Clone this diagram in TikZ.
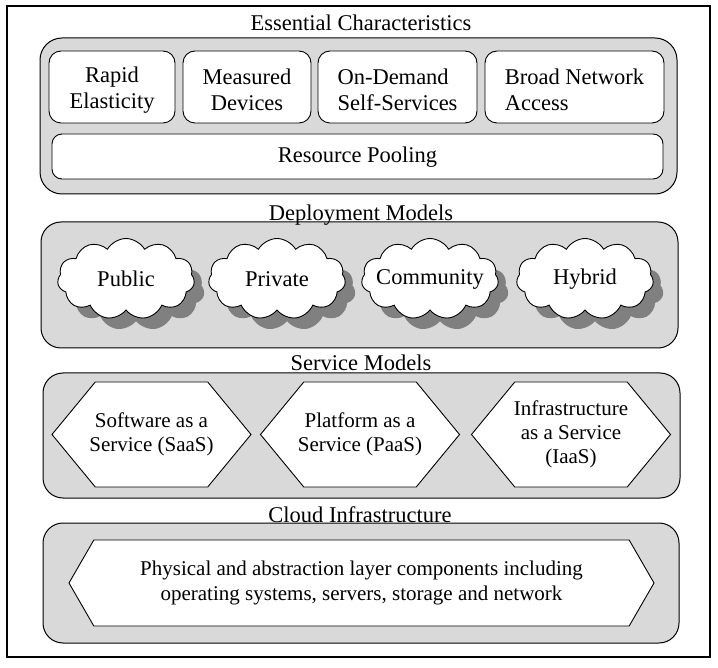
\documentclass[tikz,border=0pt]{standalone}
\usepackage{fontspec}
\setmainfont{Liberation Serif}
\usetikzlibrary{shapes.symbols,shadows}

\tikzset{
    panel/.style={draw, line width=1pt, fill=black!15, rounded corners=20pt},
    charbox/.style={draw, line width=0.9pt, fill=white, rounded corners=12pt,
        minimum height=72pt, inner sep=0pt},
    chartext/.style={yshift=-3pt, font=\fontsize{22.5}{26}\selectfont},
    title/.style={anchor=base, inner sep=0pt, font=\fontsize{22.5}{26}\selectfont},
    puff/.style={cloud, cloud puffs=11, cloud puff arc=120, cloud ignores aspect,
        draw, line width=0.9pt, fill=white, minimum width=137pt, minimum height=81pt,
        drop shadow={shadow xshift=10pt, shadow yshift=-11pt, fill=black!50, opacity=1},
        label={[font=\fontsize{22.5}{26}\selectfont]center:#1}},
    hexa/.style={signal, signal to=west and east, draw, line width=0.9pt, fill=white,
        inner sep=0pt, align=center},
    hexatext/.style={align=center, font=\fontsize{21}{24}\selectfont}
}

\begin{document}
\begin{tikzpicture}[x=1pt, y=-1pt]
    \useasboundingbox (0,0) rectangle (718,668);
    \draw[line width=2.5pt] (7,6) rectangle (710,657);

    % Essential characteristics
    \node[panel, rounded corners=22pt, minimum width=637pt, minimum height=156pt] (ess) at (358.5,116) {};
    \node[title] (esstitle) at (361,31) {Essential Characteristics};
    \node[charbox, minimum width=126pt, label={[chartext, align=center]center:{Rapid\\Elasticity}}] (rapid) at (112,87) {};
    \node[charbox, minimum width=128pt, label={[chartext, align=center]center:{Measured\\Devices}}] (measured) at (247,87) {};
    \node[charbox, minimum width=159pt, label={[chartext, align=left]center:{On-Demand\\Self-Services}}] (ondemand) at (397.5,87) {};
    \node[charbox, minimum width=179pt, label={[chartext, align=left]center:{Broad Network\\Access}}] (broad) at (574.5,87) {};
    \node[charbox, rounded corners=10pt, minimum width=611pt, minimum height=45pt,
        label={[chartext, yshift=2pt]center:Resource Pooling}] (pooling) at (357.5,156.5) {};

    % Deployment models
    \node[panel, minimum width=637pt, minimum height=126pt] (dep) at (359.5,285) {};
    \node[title] (deptitle) at (361,221) {Deployment Models};
    \node[puff=Public] (public) at (126,279) {};
    \node[puff=Private] (private) at (277,279) {};
    \node[puff=Community] (community) at (430,279) {};
    \node[puff=Hybrid] (hybrid) at (585,279) {};

    % Service models
    \node[panel, minimum width=637pt, minimum height=125pt] (svc) at (361.5,435.5) {};
    \node[title] (svctitle) at (361,371) {Service Models};
    \begin{scope}[every node/.append style={hexa, signal pointer angle=101,
            minimum width=199pt, minimum height=105pt}]
        \node[label={[hexatext]center:{Software as a\\Service (SaaS)}}] (saas) at (151.5,434.5) {};
        \node[label={[hexatext]center:{Platform as a\\Service (PaaS)}}] (paas) at (360,434.5) {};
        \node[label={[hexatext]center:{Infrastructure\\as a Service\\(IaaS)}}] (iaas) at (571,434.5) {};
    \end{scope}

    % Cloud infrastructure
    \node[panel, minimum width=636pt, minimum height=120pt] (infra) at (361,583) {};
    \node[title] (infratitle) at (360,522) {Cloud Infrastructure};
    \node[hexa, signal pointer angle=120, minimum width=585pt, minimum height=86pt,
        font=\fontsize{21}{25}\selectfont] (layer) at (361.5,583)
        {Physical and abstraction layer components including\\operating systems, servers, storage and network};
\end{tikzpicture}
\end{document}
